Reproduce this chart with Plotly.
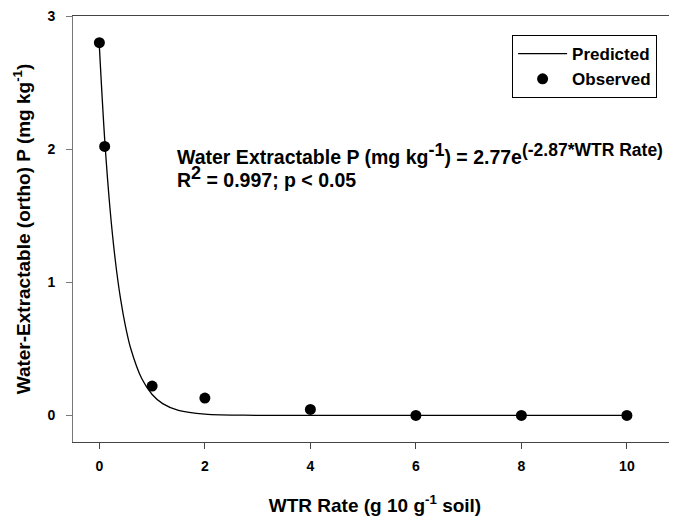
import plotly.graph_objects as go

# Observed data
obs_x = [0, 0.1, 1, 2, 4, 6, 8, 10]
obs_y = [2.80, 2.02, 0.22, 0.13, 0.045, 0.0, 0.0, 0.0]

# Predicted curve (fitted: 2.77e^(-2.87*WTR Rate))
pred_x = [0, 0.1, 0.2, 0.3, 0.4, 0.5, 0.6, 0.8, 1.0, 1.2, 1.5, 2, 3, 4, 6, 8, 10]
pred_y = [2.77, 2.079, 1.560, 1.171, 0.879, 0.660, 0.495, 0.279, 0.157, 0.0884,
          0.0374, 0.0089, 0.0005, 0.0, 0.0, 0.0, 0.0]

x_ticks = [0, 2, 4, 6, 8, 10]
y_ticks = [0, 1, 2, 3]

FONT = "Liberation Sans, Arial, sans-serif"
PAD = "\u00a0\u00a0"

fig = go.Figure()
fig.add_trace(go.Scatter(x=pred_x, y=pred_y, mode="lines", name="<b>Predicted</b>",
                         line=dict(color="black", width=1.3, shape="spline")))
fig.add_trace(go.Scatter(x=obs_x, y=obs_y, mode="markers", name="<b>Observed</b>",
                         marker=dict(color="black", size=11)))

fig.update_layout(
    width=669, height=508,
    margin=dict(l=65, r=0, t=8, b=68),
    plot_bgcolor="white", paper_bgcolor="white",
    font=dict(family=FONT, color="black", size=14),
    legend=dict(x=0.727, y=0.955, xanchor="left", yanchor="top",
                bordercolor="black", borderwidth=1, bgcolor="white",
                font=dict(size=17, family=FONT), entrywidth=122,
                itemwidth=49, tracegroupgap=0),
    xaxis=dict(range=[-0.5, 10.95], tickvals=x_ticks,
               ticktext=[f"<b>{v}</b>" for v in x_ticks],
               showgrid=False, zeroline=False, showline=True, linecolor="#444",
               linewidth=1, mirror=True, ticks="outside", ticklen=6, tickcolor="#444",
               tickfont=dict(size=14), ticklabeloverflow="allow", ticklabelstandoff=5,
               title=dict(text="<b>WTR Rate (g 10 g<sup>-1</sup> soil)</b>",
                          font=dict(size=19), standoff=29)),
    yaxis=dict(range=[-0.2, 3], tickvals=y_ticks,
               ticktext=[f"<b>{v}</b>{PAD}" for v in y_ticks],
               showgrid=False, zeroline=False, showline=True, linecolor="#777",
               linewidth=1, ticks="outside", ticklen=6, tickcolor="#777",
               tickfont=dict(size=14), ticklabeloverflow="allow",
               title=dict(text="<b>Water-Extractable (ortho) P (mg kg<sup>-1</sup>)</b>",
                          font=dict(size=19), standoff=11)),
)

fig.add_annotation(x=1.43, y=1.967, xref="x", yref="y", xanchor="left", yanchor="middle",
                   showarrow=False, font=dict(size=19.5, family=FONT),
                   text="<b>Water Extractable P (mg kg<sup><span style='font-size:18px'>-1</span></sup>) = 2.77e"
                        "<sup><span style='font-size:17.5px'>(-2.87*WTR Rate)</span></sup></b>")
fig.add_annotation(x=1.43, y=1.793, xref="x", yref="y", xanchor="left", yanchor="middle",
                   showarrow=False, font=dict(size=19.5, family=FONT),
                   text="<b>R<sup><span style='font-size:18px'>2</span></sup> = 0.997; p &lt; 0.05</b>")

fig.write_html("out.html")
